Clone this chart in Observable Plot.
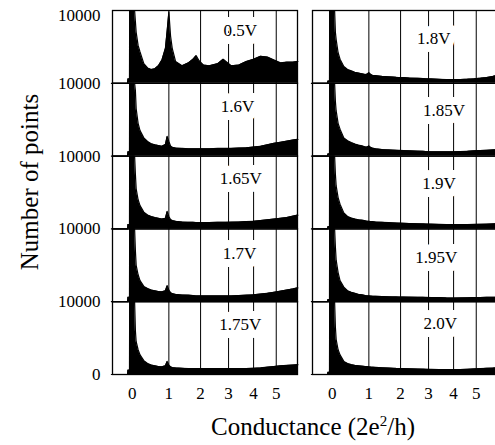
<!DOCTYPE html>
<html><head><meta charset="utf-8">
<script src="https://cdn.jsdelivr.net/npm/d3@7"></script>
<script src="https://cdn.jsdelivr.net/npm/@observablehq/plot@0.6"></script>
<style>
html,body{margin:0;padding:0;background:#fff;overflow:hidden;}
#wrap{position:relative;width:495px;height:445px;overflow:hidden;background:#fff;}
#wrap svg{position:absolute;left:0;top:0;max-width:none !important;}
.t{position:absolute;font-family:"Liberation Serif","Times New Roman",serif;font-size:25px;line-height:1;white-space:nowrap;color:#000;}
</style></head><body>
<div id="wrap"></div>
<script>
// Conductance grid (units of 2e^2/h)
const conductance = [-0.55,-0.12,-0.11,-0.07,-0.065,0.06,0.08,0.1,0.15,0.2,0.3,0.4,0.5,0.6,0.7,0.8,0.9,0.95,1.0,1.05,1.1,1.2,1.4,1.6,1.75,1.85,1.95,2.1,2.3,2.6,2.8,2.9,3.1,3.4,3.7,4.0,4.3,4.6,4.9,5.2,5.5,5.8,6.05];

// Left column histograms (number of points, clipped at 10000)
const v0_5  = [0,0,600,600,10000,10000,8500,7000,5200,4300,2700,2100,1900,2000,2400,3200,4800,7200,9800,6500,4800,3000,2400,2800,3300,3800,3100,2500,2400,2700,3300,3000,2400,2500,3000,3300,3700,3600,3200,2800,2900,2900,3000];
const v1_6  = [0,0,600,600,10000,10000,9000,6500,4500,3500,2500,2000,1700,1550,1450,1350,1600,2700,2000,1400,1200,1100,1050,1000,1000,1000,1000,1000,1000,1050,1050,1050,1050,1100,1150,1250,1350,1550,1750,1900,2050,2200,2300];
const v1_65 = [0,0,600,600,10000,10000,7500,5500,4000,3200,2300,1900,1700,1550,1450,1350,1450,2400,1700,1300,1150,1050,950,900,900,880,880,880,880,900,900,900,920,950,1000,1050,1150,1250,1350,1450,1550,1750,1900];
const v1_7  = [0,0,600,600,10000,10000,7000,5000,3700,2900,2100,1800,1600,1500,1400,1350,1500,2200,1600,1250,1100,1000,920,900,850,800,800,800,800,800,800,800,800,850,900,950,1050,1150,1300,1450,1600,1750,1900];
const v1_75 = [0,0,600,600,10000,10000,6000,4500,3400,2700,1900,1500,1300,1200,1100,1050,1200,1800,1300,1050,950,900,850,800,800,800,800,800,800,800,800,800,800,800,820,850,900,1000,1100,1200,1250,1300,1350];

// Right column histograms
const v1_8  = [0,0,300,300,10000,10000,7000,6000,4200,3300,2300,1900,1700,1500,1400,1300,1200,1250,1450,1250,1100,1050,950,900,850,820,800,780,720,680,650,620,600,550,500,500,520,560,620,700,800,950,1100];
const v1_85 = [0,0,300,300,10000,10000,7500,6200,4500,3700,2500,2100,1850,1650,1500,1400,1250,1250,1400,1200,1100,1000,900,850,820,800,780,750,720,680,650,630,600,600,590,600,620,660,720,760,800,850,900];
const v1_9  = [0,0,300,300,10000,10000,7500,5900,4300,3400,2200,1700,1500,1350,1250,1200,1100,1050,1050,1000,1000,950,900,850,820,800,780,760,740,700,680,660,650,620,600,600,600,600,610,630,650,680,700];
const v1_95 = [0,0,300,300,10000,10000,7500,5700,4000,2900,2000,1500,1300,1150,1000,950,850,820,800,780,760,740,700,680,660,650,640,630,620,600,600,590,580,560,520,510,520,540,560,580,600,600,620];
const v2_0  = [0,0,300,300,10000,10000,6500,4800,3400,2700,1800,1500,1350,1250,1200,1150,1100,1080,1050,1030,1000,970,930,880,850,830,820,800,780,750,730,720,700,690,680,680,690,720,760,800,850,880,920];

const leftVoltages  = ["0.5V","1.6V","1.65V","1.7V","1.75V"];
const rightVoltages = ["1.8V","1.85V","1.9V","1.95V","2.0V"];
const leftSeries  = [v0_5, v1_6, v1_65, v1_7, v1_75];
const rightSeries = [v1_8, v1_85, v1_9, v1_95, v2_0];

// Panel label positions (conductance, count)
const leftLabelG  = [3.45, 3.35, 3.47, 3.42, 3.45];
const leftLabelN  = [7200, 6800, 6900, 6650, 6800];
const rightLabelG = [3.2, 3.6, 3.4, 3.3, 3.45];
const rightLabelN = [6100, 6300, 6200, 6100, 7000];

const xTicks = [0, 1, 2, 3, 4, 5];
const gridLines = [1, 2, 3, 4, 5];

const table = [];
const labels = [];
[["L", leftVoltages, leftSeries, leftLabelG, leftLabelN],
 ["R", rightVoltages, rightSeries, rightLabelG, rightLabelN]].forEach(([col, volts, ser, lg, ln]) => {
  volts.forEach((v, row) => {
    ser[row].forEach((n, i) => table.push({col, row, v, g: conductance[i], n}));
    labels.push({col, row, v, g: lg[row], n: ln[row]});
  });
});

const fmt = d => `${d}`;
const axisStyle = {tickSize: 0, tickPadding: 12, fontSize: 17, label: null, tickFormat: fmt};

const chart = Plot.plot({
  width: 498, height: 445,
  marginLeft: 112, marginRight: 1, marginTop: 10, marginBottom: 71,
  style: {fontFamily: "'Liberation Serif', 'Times New Roman', serif", fontSize: "17px", color: "black", background: "white", overflow: "visible", maxWidth: "none"},
  fx: {domain: ["L", "R"], paddingInner: 0.075, paddingOuter: 0, round: false, axis: null},
  fy: {domain: [0, 1, 2, 3, 4], padding: 0, round: false, axis: null},
  x: {type: "symlog", constant: 6, domain: [-0.52, 6.03]},
  y: {domain: [0, 10000]},
  marks: [
    Plot.areaY(table, {fx: "col", fy: "row", x: "g", y: "n", z: "v", fill: "black"}),
    Plot.lineY(table, {fx: "col", fy: "row", x: "g", y: "n", z: "v", stroke: "black", strokeWidth: 1.2}),
    Plot.ruleX(gridLines, {stroke: "black", strokeWidth: 1}),
    Plot.text(labels, {fx: "col", fy: "row", x: "g", y: "n", text: "v", fontSize: 17, fill: "black", stroke: "white", strokeWidth: 16}),
    Plot.frame({stroke: "black", strokeWidth: 1.3}),
    Plot.axisX(xTicks, {...axisStyle}),
    Plot.axisY([10000, 10000, 10000, 10000], {...axisStyle, fx: ["L", "L", "L", "L"], fy: [1, 2, 3, 4]}),
    Plot.axisY([10000], {...axisStyle, fx: ["L"], fy: [0], dy: 5}),
    Plot.axisY([0], {...axisStyle, fx: ["L"], fy: [4]})
  ]
});
chart.style.maxWidth = "none";

const wrap = document.getElementById("wrap");
wrap.appendChild(chart);

const xt = document.createElement("div");
xt.className = "t";
xt.innerHTML = "Conductance (2e<span style=\"font-size:15px;vertical-align:9px\">2</span>/h)";
xt.style.left = "313px"; xt.style.top = "414px"; xt.style.transform = "translateX(-50%)";
wrap.appendChild(xt);

const yt = document.createElement("div");
yt.className = "t";
yt.textContent = "Number of points";
yt.style.left = "29px"; yt.style.top = "182px"; yt.style.transform = "translate(-50%,-50%) rotate(-90deg)";
wrap.appendChild(yt);
</script>
</body></html>
